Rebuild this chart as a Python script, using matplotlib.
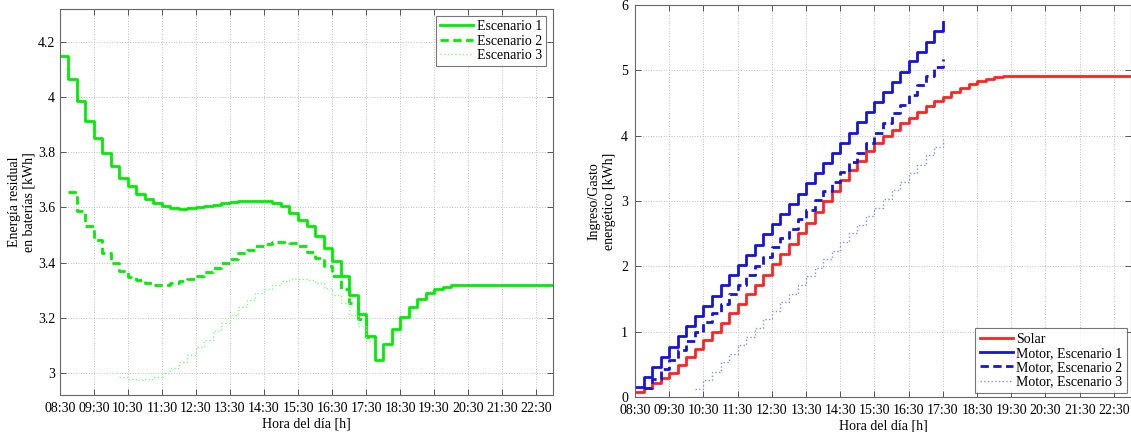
import numpy as np
import matplotlib
matplotlib.use('Agg')
import matplotlib.pyplot as plt
from matplotlib.ticker import FormatStrFormatter

plt.rcParams['font.family'] = ['Liberation Serif', 'DejaVu Serif']
plt.rcParams['font.size'] = 10

# time axis: quarter-hour steps starting 08:30 (hours as decimals)
t_inicio = 8.5
paso = 0.25
etiquetas_hora = ['08:30', '09:30', '10:30', '11:30', '12:30', '13:30', '14:30',
                  '15:30', '16:30', '17:30', '18:30', '19:30', '20:30', '21:30', '22:30']

# ---- left: residual battery energy [kWh] ----
# Escenario 1 starts at 08:30 (index 0), last value at 23:00
esc1 = [4.15, 4.065, 3.987, 3.914, 3.853, 3.796, 3.750, 3.708, 3.677, 3.650,
        3.629, 3.615, 3.605, 3.598, 3.596, 3.597, 3.600, 3.604, 3.610, 3.616,
        3.620, 3.623, 3.625, 3.625, 3.622, 3.615, 3.605, 3.581, 3.556, 3.532,
        3.496, 3.453, 3.405, 3.350, 3.284, 3.214, 3.134, 3.047, 3.105, 3.159,
        3.202, 3.239, 3.268, 3.290, 3.304, 3.312, 3.317, 3.319, 3.319, 3.319,
        3.319, 3.319, 3.319, 3.319, 3.319, 3.319, 3.319, 3.319, 3.319]
# Escenario 2 starts at 08:45 (index 1)
esc2 = [3.655, 3.588, 3.532, 3.481, 3.435, 3.399, 3.371, 3.348, 3.335, 3.326,
        3.320, 3.320, 3.326, 3.332, 3.342, 3.353, 3.365, 3.381, 3.399, 3.414,
        3.433, 3.447, 3.459, 3.469, 3.474, 3.476, 3.471, 3.461, 3.440, 3.417,
        3.387, 3.350, 3.304, 3.253, 3.195, 3.130, 3.125]
# Escenario 3 starts at 10:15 (index 7)
esc3 = [2.983, 2.977, 2.975, 2.977, 2.984, 2.999, 3.017, 3.038, 3.065, 3.092,
        3.120, 3.150, 3.181, 3.211, 3.239, 3.266, 3.288, 3.304, 3.320, 3.332,
        3.339, 3.340, 3.335, 3.326, 3.308, 3.284, 3.253, 3.211, 3.169, 3.114,
        3.110]
inicio_esc = [0, 1, 7]

# ---- right: energy income / expense [kWh] ----
solar = [0.07, 0.14, 0.22, 0.29, 0.37, 0.49, 0.62, 0.74, 0.87, 1.00,
         1.14, 1.28, 1.43, 1.57, 1.72, 1.87, 2.03, 2.19, 2.35, 2.51,
         2.67, 2.84, 3.00, 3.16, 3.33, 3.48, 3.62, 3.76, 3.89, 3.99,
         4.09, 4.19, 4.28, 4.37, 4.45, 4.53, 4.60, 4.67, 4.73, 4.79,
         4.84, 4.87, 4.90, 4.91, 4.92, 4.92, 4.92, 4.92, 4.92, 4.92,
         4.92, 4.92, 4.92, 4.92, 4.92, 4.92, 4.92, 4.92, 4.92]
motor1 = [0.15, 0.31, 0.46, 0.62, 0.77, 0.93, 1.09, 1.24, 1.40, 1.55,
          1.71, 1.87, 2.02, 2.18, 2.33, 2.49, 2.65, 2.80, 2.96, 3.11,
          3.27, 3.43, 3.58, 3.74, 3.89, 4.05, 4.21, 4.36, 4.52, 4.67,
          4.83, 4.98, 5.14, 5.29, 5.44, 5.60, 5.75]
motor2 = [0.14, 0.28, 0.43, 0.57, 0.72, 0.86, 1.00, 1.15, 1.29, 1.43,
          1.58, 1.72, 1.87, 2.01, 2.15, 2.30, 2.44, 2.58, 2.73, 2.87,
          3.02, 3.16, 3.30, 3.45, 3.60, 3.73, 3.89, 4.04, 4.19, 4.35,
          4.47, 4.62, 4.78, 4.91, 5.06, 5.17]
motor3 = [0.13, 0.26, 0.39, 0.53, 0.66, 0.79, 0.92, 1.05, 1.19, 1.32,
          1.45, 1.58, 1.71, 1.85, 1.98, 2.11, 2.24, 2.37, 2.51, 2.64,
          2.77, 2.90, 3.03, 3.17, 3.30, 3.43, 3.56, 3.70, 3.83, 3.95]
inicio_motor = [0, 0, 1, 7]


def tiempos(i0, n):
    return t_inicio + paso * (i0 + np.arange(n))


def estilo(ax):
    ax.set_xlim(8.5, 23.0)
    ax.set_xticks(8.5 + np.arange(len(etiquetas_hora)))
    ax.set_xticklabels(etiquetas_hora)
    ax.grid(True, linestyle=':', color='#c0c0c0', linewidth=0.7)
    ax.tick_params(direction='in', top=True, right=True, length=4,
                   width=0.7, color='#555555', labelsize=10)
    ax.tick_params(axis='x', pad=5)
    for s in ax.spines.values():
        s.set_color('#666666')
        s.set_linewidth(0.8)
    ax.set_xlabel('Hora del día [h]', labelpad=2)


fig = plt.figure(figsize=(11.31, 4.32), dpi=100)
ax1 = fig.add_axes([0.053, 0.086, 0.436, 0.893])
ax2 = fig.add_axes([0.5615, 0.081, 0.4385, 0.907])

verde = '#00ee00'
dash = (0, (3, 1.6))
for serie, i0, ls, lw, col, lab in [
        (esc1, inicio_esc[0], '-', 2.0, verde, 'Escenario 1'),
        (esc2, inicio_esc[1], dash, 2.0, verde, 'Escenario 2'),
        (esc3, inicio_esc[2], ':', 1.0, '#7dff7d', 'Escenario 3')]:
    ax1.step(tiempos(i0, len(serie)), serie, where='post', linestyle=ls,
             linewidth=lw, color=col, label=lab)
estilo(ax1)
ax1.set_ylim(2.92, 4.32)
ax1.set_yticks([3.0, 3.2, 3.4, 3.6, 3.8, 4.0, 4.2])
ax1.yaxis.set_major_formatter(FormatStrFormatter('%g'))
ax1.set_ylabel('Energía residual\nen baterías [kWh]', labelpad=1.5)
lg1 = ax1.legend(loc='upper right', fontsize=10, fancybox=False,
                 edgecolor='#555555', handlelength=2.4, labelspacing=0.1,
                 borderpad=0.3, handletextpad=0.25, borderaxespad=0.5)
lg1.get_frame().set_linewidth(0.8)

azul = '#1414dc'
for serie, i0, ls, lw, col, lab in [
        (solar, inicio_motor[0], '-', 2.0, '#ff2222', 'Solar'),
        (motor1, inicio_motor[1], '-', 2.0, azul, 'Motor, Escenario 1'),
        (motor2, inicio_motor[2], dash, 2.0, azul, 'Motor, Escenario 2'),
        (motor3, inicio_motor[3], ':', 1.0, '#8a8aff', 'Motor, Escenario 3')]:
    ax2.step(tiempos(i0, len(serie)), serie, where='post', linestyle=ls,
             linewidth=lw, color=col, label=lab)
estilo(ax2)
ax2.set_ylim(0, 6)
ax2.set_yticks(range(7))
ax2.tick_params(axis='y', pad=5)
ax2.set_ylabel('Ingreso/Gasto\nenergético [kWh]', labelpad=4)
lg2 = ax2.legend(loc='lower right', fontsize=10, fancybox=False,
                 edgecolor='#555555', handlelength=2.4, labelspacing=0.1,
                 borderpad=0.3, handletextpad=0.25, borderaxespad=0.3)
lg2.get_frame().set_linewidth(0.8)

fig.savefig('out.png', dpi=100)
